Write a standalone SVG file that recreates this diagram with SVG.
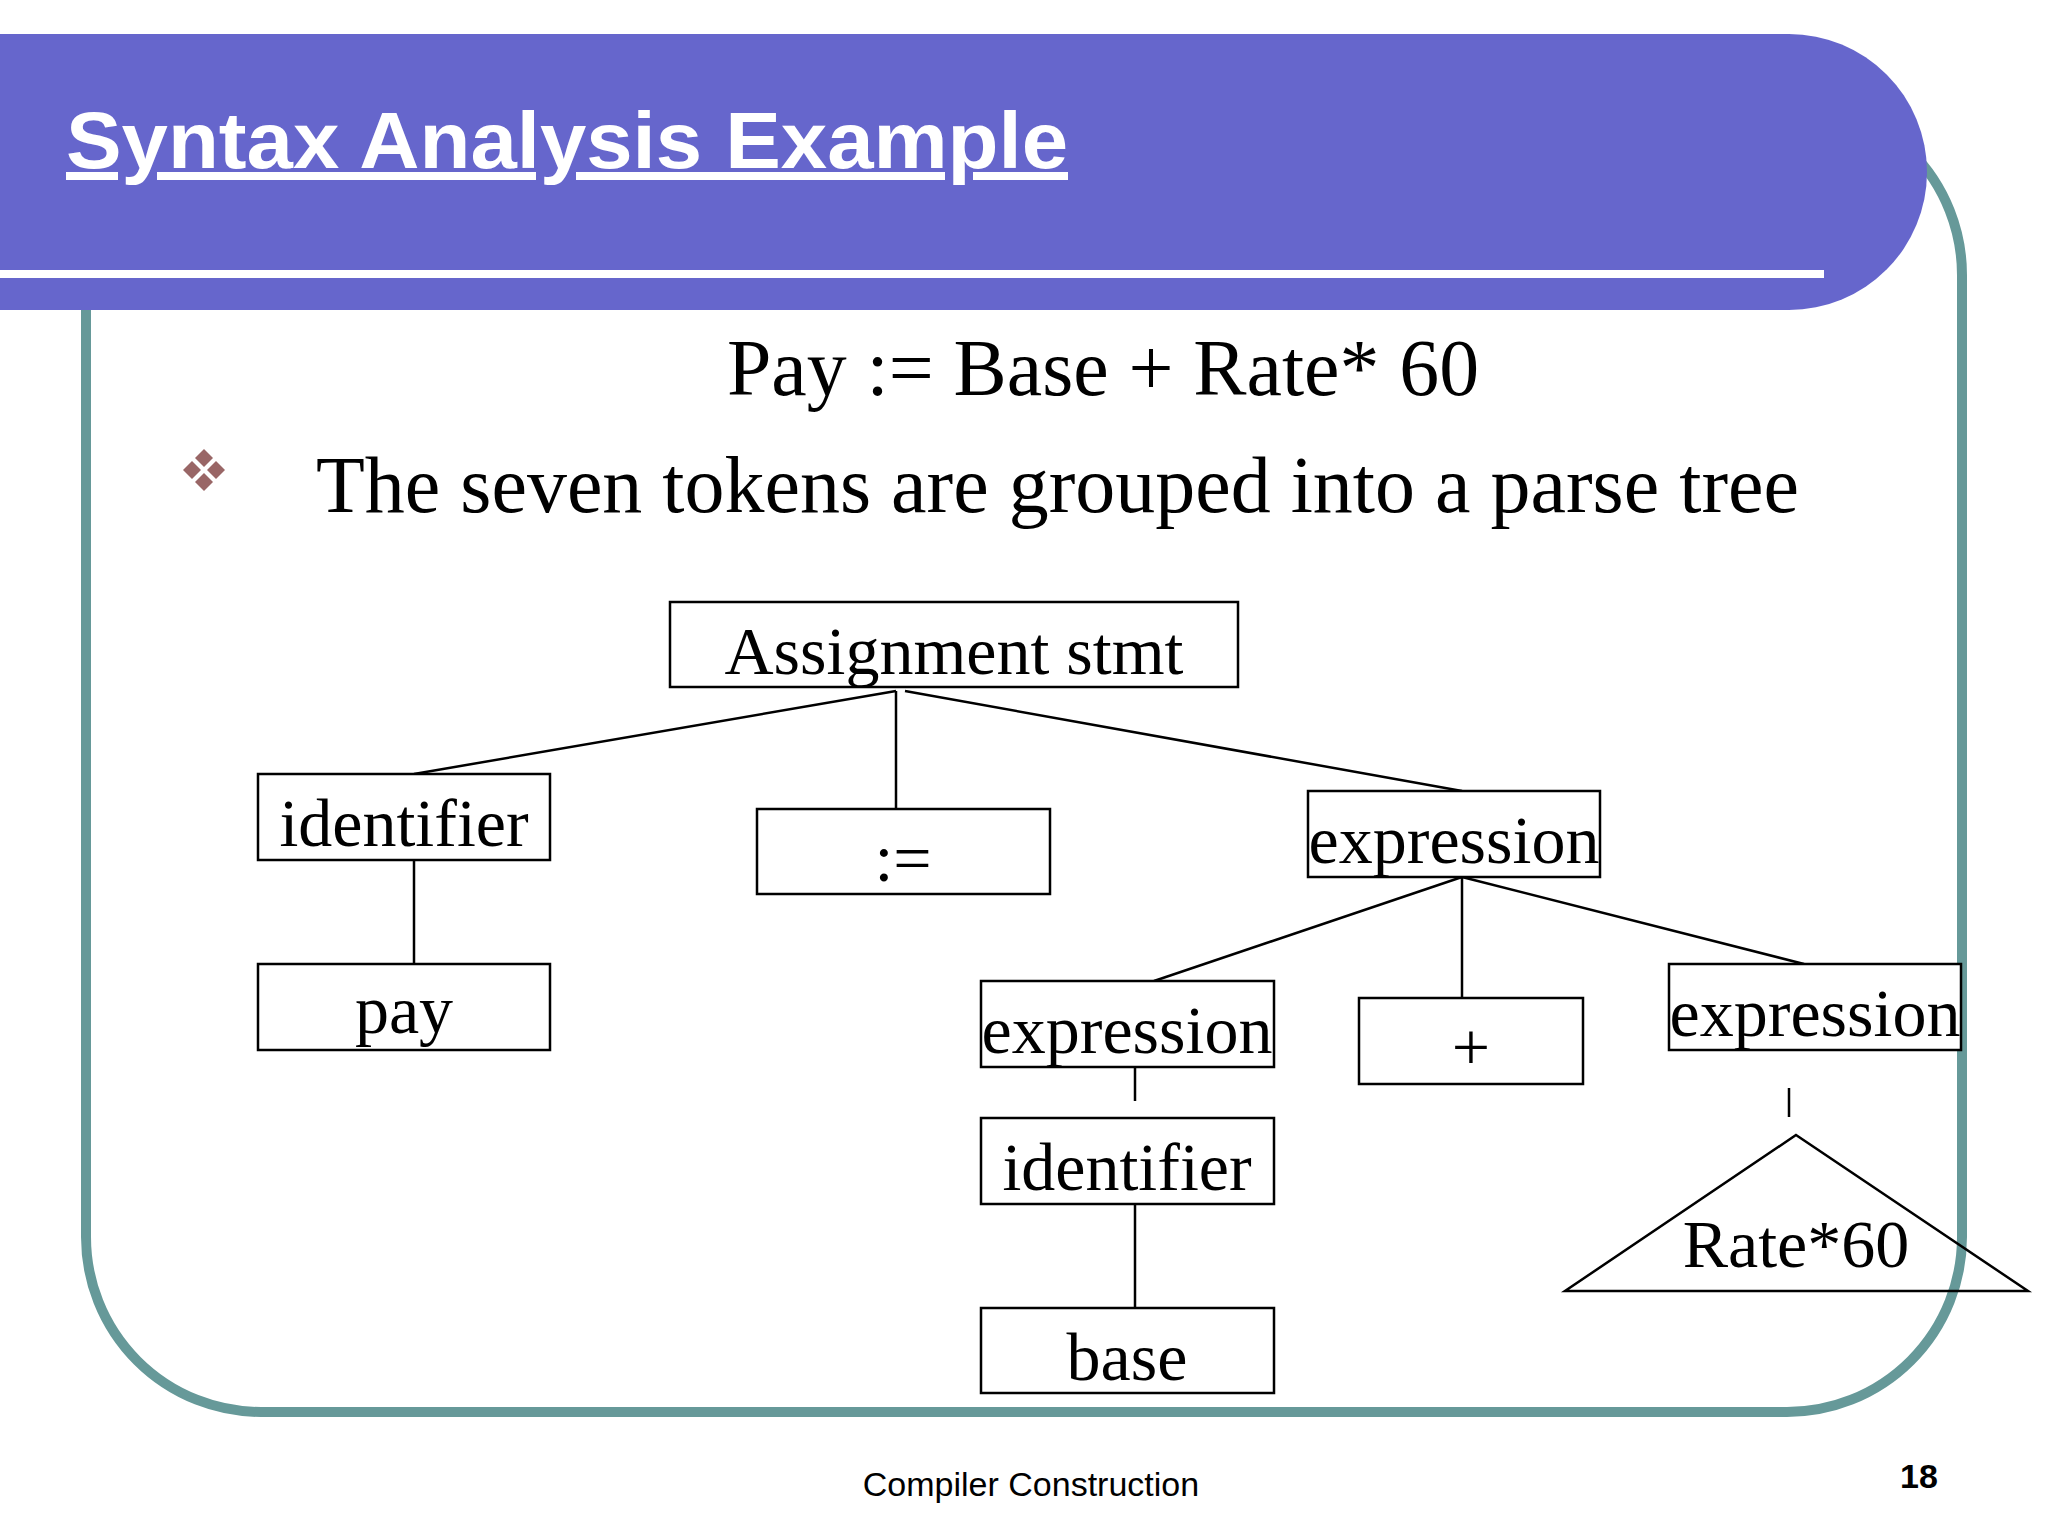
<svg xmlns="http://www.w3.org/2000/svg" width="2048" height="1536" viewBox="0 0 2048 1536">
<style>
.box{fill:#fff;stroke:#000;stroke-width:2.5}
.t{font-family:"Liberation Serif","Times New Roman",serif;font-size:68px;fill:#000;text-anchor:middle}
.big{font-family:"Liberation Serif","Times New Roman",serif;font-size:80px;fill:#000}
#connectors line{stroke:#000;stroke-width:2.5}
</style>
<rect width="2048" height="1536" fill="#fff"/>
<rect x="86" y="100" width="1876" height="1312" rx="175" ry="175" fill="none" stroke="#669999" stroke-width="10"/>
<path d="M0 34 H1789 A138 138 0 0 1 1789 310 H0 Z" fill="#6666cc"/>
<rect x="0" y="270" width="1824" height="8" fill="#fff"/>
<text x="66" y="168" font-family="Liberation Sans,Arial,sans-serif" font-weight="bold" font-size="80" fill="#fff" text-decoration="underline" textLength="1002" lengthAdjust="spacingAndGlyphs">Syntax Analysis Example</text>
<text class="big" x="727" y="395" textLength="752" lengthAdjust="spacingAndGlyphs">Pay := Base + Rate* 60</text>
<g fill="#996666">
<path d="M204 449 l9 9 -9 9 -9 -9z"/><path d="M192 461 l9 9 -9 9 -9 -9z"/><path d="M216 461 l9 9 -9 9 -9 -9z"/><path d="M204 473 l9 9 -9 9 -9 -9z"/>
</g>
<text class="big" x="316" y="512" textLength="1483" lengthAdjust="spacingAndGlyphs">The seven tokens are grouped into a parse tree</text>
<g id="connectors">
<line x1="896" y1="691" x2="414" y2="774"/>
<line x1="896" y1="691" x2="896" y2="809"/>
<line x1="905" y1="691" x2="1462" y2="791"/>
<line x1="414" y1="860" x2="414" y2="964"/>
<line x1="1462" y1="877" x2="1154" y2="981"/>
<line x1="1462" y1="877" x2="1462" y2="998"/>
<line x1="1462" y1="877" x2="1804" y2="964"/>
<line x1="1135" y1="1067" x2="1135" y2="1101"/>
<line x1="1135" y1="1204" x2="1135" y2="1308"/>
<line x1="1789" y1="1088" x2="1789" y2="1117"/>
</g>
<g id="n-assign"><rect class="box" x="670" y="602" width="568" height="85"/><text class="t" x="954" y="674">Assignment stmt</text></g>
<g id="n-ident1"><rect class="box" x="258" y="774" width="292" height="86"/><text class="t" x="404" y="846">identifier</text></g>
<g id="n-assignop"><rect class="box" x="757" y="809" width="293" height="85"/><text class="t" x="903" y="881">:=</text></g>
<g id="n-expr"><rect class="box" x="1308" y="791" width="292" height="86"/><text class="t" x="1454" y="863">expression</text></g>
<g id="n-pay"><rect class="box" x="258" y="964" width="292" height="86"/><text class="t" x="404" y="1033">pay</text></g>
<g id="n-exprL"><rect class="box" x="981" y="981" width="293" height="86"/><text class="t" x="1127" y="1053">expression</text></g>
<g id="n-plus"><rect class="box" x="1359" y="998" width="224" height="86"/><text class="t" x="1471" y="1070">+</text></g>
<g id="n-exprR"><rect class="box" x="1669" y="964" width="292" height="86"/><text class="t" x="1815" y="1036">expression</text></g>
<g id="n-ident2"><rect class="box" x="981" y="1118" width="293" height="86"/><text class="t" x="1127" y="1190">identifier</text></g>
<g id="n-base"><rect class="box" x="981" y="1308" width="293" height="85"/><text class="t" x="1127" y="1380">base</text></g>
<g id="n-rate"><polygon points="1796,1135 2028,1291 1565,1291" fill="none" stroke="#000" stroke-width="2.5"/><text class="t" x="1796" y="1267">Rate*60</text></g>
<text x="1031" y="1496" font-family="Liberation Sans,Arial,sans-serif" font-size="34" text-anchor="middle">Compiler Construction</text>
<text x="1919" y="1488" font-family="Liberation Sans,Arial,sans-serif" font-size="34" font-weight="bold" text-anchor="middle">18</text>
</svg>
